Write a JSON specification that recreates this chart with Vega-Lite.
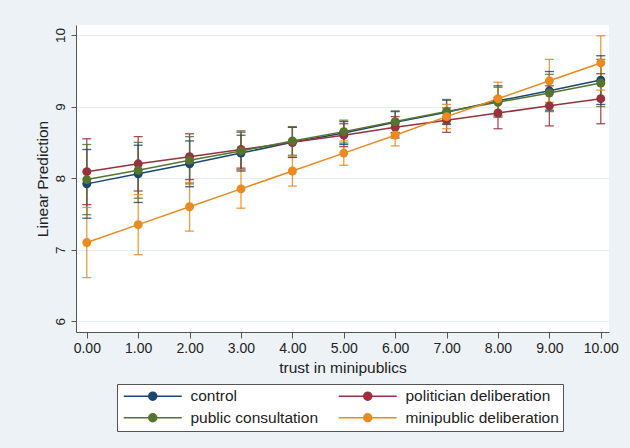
{
  "$schema": "https://vega.github.io/schema/vega-lite/v6.json",
  "width": 533,
  "height": 307,
  "autosize": {"type": "none"},
  "padding": {"left": 76, "top": 25, "right": 21, "bottom": 116},
  "background": "#ecf2f6",
  "config": {
    "view": {"fill": "white", "stroke": null},
    "font": "Liberation Sans",
    "axis": {
      "labelFont": "Liberation Sans",
      "titleFont": "Liberation Sans",
      "labelColor": "#222222",
      "titleColor": "#222222",
      "titleFontWeight": "normal",
      "domainColor": "#555555",
      "tickColor": "#555555",
      "gridColor": "#e6eef2",
      "gridWidth": 1
    }
  },
  "data": {
    "values": [
      {"group": "control", "x": 0, "y": 7.92, "lo": 7.44, "hi": 8.40},
      {"group": "control", "x": 1, "y": 8.06, "lo": 7.66, "hi": 8.46},
      {"group": "control", "x": 2, "y": 8.20, "lo": 7.88, "hi": 8.52},
      {"group": "control", "x": 3, "y": 8.35, "lo": 8.10, "hi": 8.60},
      {"group": "control", "x": 4, "y": 8.50, "lo": 8.29, "hi": 8.71},
      {"group": "control", "x": 5, "y": 8.63, "lo": 8.47, "hi": 8.79},
      {"group": "control", "x": 6, "y": 8.78, "lo": 8.63, "hi": 8.93},
      {"group": "control", "x": 7, "y": 8.92, "lo": 8.75, "hi": 9.09},
      {"group": "control", "x": 8, "y": 9.08, "lo": 8.87, "hi": 9.29},
      {"group": "control", "x": 9, "y": 9.22, "lo": 8.95, "hi": 9.49},
      {"group": "control", "x": 10, "y": 9.37, "lo": 9.03, "hi": 9.71},
      {"group": "politician deliberation", "x": 0, "y": 8.09, "lo": 7.63, "hi": 8.55},
      {"group": "politician deliberation", "x": 1, "y": 8.20, "lo": 7.82, "hi": 8.58},
      {"group": "politician deliberation", "x": 2, "y": 8.30, "lo": 7.98, "hi": 8.62},
      {"group": "politician deliberation", "x": 3, "y": 8.40, "lo": 8.14, "hi": 8.66},
      {"group": "politician deliberation", "x": 4, "y": 8.50, "lo": 8.29, "hi": 8.71},
      {"group": "politician deliberation", "x": 5, "y": 8.60, "lo": 8.44, "hi": 8.76},
      {"group": "politician deliberation", "x": 6, "y": 8.71, "lo": 8.56, "hi": 8.86},
      {"group": "politician deliberation", "x": 7, "y": 8.81, "lo": 8.64, "hi": 8.98},
      {"group": "politician deliberation", "x": 8, "y": 8.91, "lo": 8.69, "hi": 9.13},
      {"group": "politician deliberation", "x": 9, "y": 9.01, "lo": 8.73, "hi": 9.29},
      {"group": "politician deliberation", "x": 10, "y": 9.11, "lo": 8.76, "hi": 9.46},
      {"group": "public consultation", "x": 0, "y": 7.98, "lo": 7.49, "hi": 8.47},
      {"group": "public consultation", "x": 1, "y": 8.11, "lo": 7.72, "hi": 8.50},
      {"group": "public consultation", "x": 2, "y": 8.25, "lo": 7.92, "hi": 8.58},
      {"group": "public consultation", "x": 3, "y": 8.38, "lo": 8.12, "hi": 8.64},
      {"group": "public consultation", "x": 4, "y": 8.52, "lo": 8.32, "hi": 8.72},
      {"group": "public consultation", "x": 5, "y": 8.65, "lo": 8.49, "hi": 8.81},
      {"group": "public consultation", "x": 6, "y": 8.79, "lo": 8.64, "hi": 8.94},
      {"group": "public consultation", "x": 7, "y": 8.93, "lo": 8.76, "hi": 9.10},
      {"group": "public consultation", "x": 8, "y": 9.06, "lo": 8.85, "hi": 9.27},
      {"group": "public consultation", "x": 9, "y": 9.19, "lo": 8.93, "hi": 9.45},
      {"group": "public consultation", "x": 10, "y": 9.33, "lo": 9.00, "hi": 9.66},
      {"group": "minipublic deliberation", "x": 0, "y": 7.10, "lo": 6.61, "hi": 7.59},
      {"group": "minipublic deliberation", "x": 1, "y": 7.35, "lo": 6.93, "hi": 7.77},
      {"group": "minipublic deliberation", "x": 2, "y": 7.60, "lo": 7.26, "hi": 7.94},
      {"group": "minipublic deliberation", "x": 3, "y": 7.85, "lo": 7.58, "hi": 8.12},
      {"group": "minipublic deliberation", "x": 4, "y": 8.10, "lo": 7.89, "hi": 8.31},
      {"group": "minipublic deliberation", "x": 5, "y": 8.35, "lo": 8.18, "hi": 8.52},
      {"group": "minipublic deliberation", "x": 6, "y": 8.60, "lo": 8.45, "hi": 8.75},
      {"group": "minipublic deliberation", "x": 7, "y": 8.86, "lo": 8.69, "hi": 9.03},
      {"group": "minipublic deliberation", "x": 8, "y": 9.11, "lo": 8.87, "hi": 9.34},
      {"group": "minipublic deliberation", "x": 9, "y": 9.36, "lo": 9.06, "hi": 9.66},
      {"group": "minipublic deliberation", "x": 10, "y": 9.61, "lo": 9.23, "hi": 9.99}
    ]
  },
  "encoding": {
    "x": {
      "field": "x",
      "type": "quantitative",
      "scale": {"domain": [-0.21, 10.16], "nice": false, "zero": false},
      "axis": {
        "title": "trust in minipublics",
        "values": [0, 1, 2, 3, 4, 5, 6, 7, 8, 9, 10],
        "format": ".2f",
        "grid": false,
        "labelFontSize": 14,
        "titleFontSize": 15.5,
        "tickSize": 6,
        "labelPadding": 3,
        "titlePadding": 5,
        "labelFlush": false
      }
    },
    "color": {
      "field": "group",
      "type": "nominal",
      "scale": {
        "domain": ["control", "politician deliberation", "public consultation", "minipublic deliberation"],
        "range": ["#1a476f", "#97323c", "#55752f", "#ea8a1f"]
      },
      "legend": {
        "orient": "none",
        "legendX": 41,
        "legendY": 359,
        "direction": "horizontal",
        "columns": 2,
        "title": null,
        "symbolType": "M-7.25,0L7.25,0M1,0A1,1,0,1,1,-1,0A1,1,0,1,1,1,0Z",
        "symbolSize": 64,
        "symbolStrokeWidth": 1.5,
        "symbolOffset": 24,
        "labelOffset": 30,
        "labelFont": "Liberation Sans",
        "labelFontSize": 15.5,
        "labelColor": "#222222",
        "labelLimit": 300,
        "strokeColor": "#555555",
        "fillColor": "white",
        "padding": 4,
        "rowPadding": 5,
        "columnPadding": 16,
        "gridAlign": "each",
        "encode": {
          "symbols": {
            "update": {
              "fill": {"scale": "color", "field": "value"},
              "stroke": {"scale": "color", "field": "value"},
              "strokeWidth": {"value": 1.5},
              "opacity": {"value": 1}
            }
          }
        }
      }
    }
  },
  "layer": [
    {
      "mark": {"type": "rule", "strokeWidth": 1.3, "opacity": 0.85},
      "encoding": {
        "y": {
          "field": "lo",
          "type": "quantitative",
          "scale": {"domain": [5.85, 10.14], "nice": false, "zero": false},
          "axis": {
            "title": "Linear Prediction",
            "values": [6, 7, 8, 9, 10],
            "format": "d",
            "grid": true,
            "labelAngle": -90,
            "labelAlign": "center",
            "labelBaseline": "bottom",
            "labelFontSize": 13.5,
            "titleFontSize": 15.5,
            "tickSize": 5,
            "labelPadding": 4,
            "titlePadding": 3
          }
        },
        "y2": {"field": "hi"}
      }
    },
    {
      "mark": {"type": "tick", "orient": "horizontal", "size": 9, "thickness": 1.3, "opacity": 0.85},
      "encoding": {"y": {"field": "lo", "type": "quantitative"}}
    },
    {
      "mark": {"type": "tick", "orient": "horizontal", "size": 9, "thickness": 1.3, "opacity": 0.85},
      "encoding": {"y": {"field": "hi", "type": "quantitative"}}
    },
    {
      "mark": {"type": "line", "strokeWidth": 1.5},
      "encoding": {"y": {"field": "y", "type": "quantitative"}}
    },
    {
      "mark": {"type": "point", "filled": true, "size": 80, "opacity": 1},
      "encoding": {"y": {"field": "y", "type": "quantitative"}}
    }
  ]
}
